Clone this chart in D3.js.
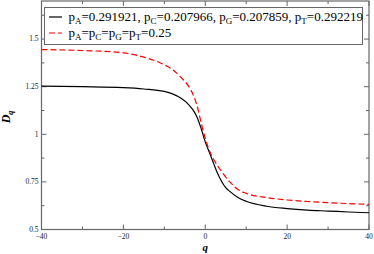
<!DOCTYPE html>
<html><head><meta charset="utf-8">
<script src="https://cdn.jsdelivr.net/npm/d3@7"></script>
<style>body{margin:0;background:#fff}svg{display:block}</style>
</head><body>
<script>
const qValues = [-40,-30,-20,-15,-10,-8,-6,-4,-3,-2,-1,0,1,2,3,4,5,6,8,10,15,20,25,30,35,40];
const dqBiased = [1.253,1.250,1.245,1.238,1.225,1.212,1.19,1.155,1.128,1.09,1.03,0.96,0.905,0.85,0.795,0.752,0.72,0.70,0.668,0.648,0.622,0.61,0.602,0.597,0.592,0.588];
const dqUniform = [1.445,1.44,1.428,1.405,1.365,1.34,1.30,1.25,1.21,1.15,1.06,0.98,0.915,0.87,0.835,0.805,0.775,0.75,0.71,0.69,0.668,0.655,0.647,0.641,0.636,0.632];
const xTicks = [-40,-20,0,20,40];
const xMinor = [-30,-10,10,30];
const yTicks = [0.5,0.75,1,1.25,1.5];
const yMinor = [0.625,0.875,1.125,1.375,1.625];
const yTickLabels = ["0.5","0.75","1","1.25","1.5"];

const W=374,H=254;
const L=41.5,R=369,T=1,B=229.5;
const x=d3.scaleLinear().domain([-40,40]).range([L,R]);
const y=d3.scaleLinear().domain([0.5,1.7]).range([B,T]);
const svg=d3.select("body").append("svg").attr("width",W).attr("height",H);
const axisCol="#666";
const serif="'Liberation Serif','Times New Roman',serif";

// frame
svg.append("rect").attr("x",L).attr("y",T).attr("width",R-L).attr("height",B-T)
  .attr("fill","none").attr("stroke",axisCol).attr("stroke-width",1.2);

// ticks (inward, all four sides)
const tk=svg.append("g").attr("stroke",axisCol).attr("stroke-width",1);
xTicks.forEach(v=>{tk.append("line").attr("x1",x(v)).attr("x2",x(v)).attr("y1",B).attr("y2",B-5);
  tk.append("line").attr("x1",x(v)).attr("x2",x(v)).attr("y1",T).attr("y2",T+5);});
xMinor.forEach(v=>{tk.append("line").attr("x1",x(v)).attr("x2",x(v)).attr("y1",B).attr("y2",B-3);
  tk.append("line").attr("x1",x(v)).attr("x2",x(v)).attr("y1",T).attr("y2",T+3);});
yTicks.forEach(v=>{tk.append("line").attr("x1",L).attr("x2",L+5).attr("y1",y(v)).attr("y2",y(v));
  tk.append("line").attr("x1",R).attr("x2",R-5).attr("y1",y(v)).attr("y2",y(v));});
yMinor.forEach(v=>{tk.append("line").attr("x1",L).attr("x2",L+3).attr("y1",y(v)).attr("y2",y(v));
  tk.append("line").attr("x1",R).attr("x2",R-3).attr("y1",y(v)).attr("y2",y(v));});

// tick labels
const fmtX=d=>d<0?"\u2212"+Math.abs(d):String(d);
svg.append("g").selectAll("text").data(xTicks).join("text")
  .attr("x",d=>x(d)).attr("y",238.5).attr("text-anchor","middle")
  .attr("font-family",serif).attr("font-size",7.5).attr("fill","#222").text(fmtX);
svg.append("g").selectAll("text").data(yTicks).join("text")
  .attr("x",38.5).attr("y",d=>y(d)+2.4).attr("text-anchor","end")
  .attr("font-family",serif).attr("font-size",7.5).attr("fill","#222").text((d,i)=>yTickLabels[i]);

// axis titles
svg.append("text").attr("x",x(0)).attr("y",250.5).attr("text-anchor","middle")
  .attr("font-family",serif).attr("font-size",11).attr("font-weight","bold").attr("font-style","italic").text("q");
const yt=svg.append("text").attr("transform","translate(10,117) rotate(-90)").attr("text-anchor","middle")
  .attr("font-family",serif).attr("font-size",12).attr("font-weight","bold").attr("font-style","italic");
yt.append("tspan").text("D");
yt.append("tspan").attr("font-size",8).attr("dy",3).text("q");

// curves
const line=d3.line().x(d=>x(d[0])).y(d=>y(d[1])).curve(d3.curveMonotoneX);
svg.append("path").datum(qValues.map((q,i)=>[q,dqBiased[i]])).attr("d",line)
  .attr("fill","none").attr("stroke","#000").attr("stroke-width",1.2);
svg.append("path").datum(qValues.map((q,i)=>[q,dqUniform[i]])).attr("d",line)
  .attr("fill","none").attr("stroke","#ff0000").attr("stroke-width",1.2).attr("stroke-dasharray","6,3");

// legend
const lg=svg.append("g");
lg.append("rect").attr("x",44.5).attr("y",7.5).attr("width",318).attr("height",37)
  .attr("fill","#fff").attr("stroke",axisCol).attr("stroke-width",1);
lg.append("line").attr("x1",49).attr("x2",62).attr("y1",17).attr("y2",17).attr("stroke","#000").attr("stroke-width",1.2);
lg.append("line").attr("x1",49).attr("x2",62).attr("y1",33).attr("y2",33).attr("stroke","#ff0000").attr("stroke-width",1.2).attr("stroke-dasharray","6,3");
function legText(yb, parts){
  const t=lg.append("text").attr("x",68.5).attr("y",yb).attr("font-family",serif).attr("font-size",13).attr("fill","#000");
  parts.forEach(p=>{
    if(p.sub){t.append("tspan").attr("font-size",9).attr("dy",3).text(p.sub);}
    else{t.append("tspan").attr("dy",p.after?-3:0).text(p.t);}
  });
}
legText(21,[{t:"p"},{sub:"A"},{t:"=0.291921, p",after:1},{sub:"C"},{t:"=0.207966, p",after:1},{sub:"G"},{t:"=0.207859, p",after:1},{sub:"T"},{t:"=0.292219",after:1}]);
legText(37,[{t:"p"},{sub:"A"},{t:"=p",after:1},{sub:"C"},{t:"=p",after:1},{sub:"G"},{t:"=p",after:1},{sub:"T"},{t:"=0.25",after:1}]);
</script>
</body></html>
